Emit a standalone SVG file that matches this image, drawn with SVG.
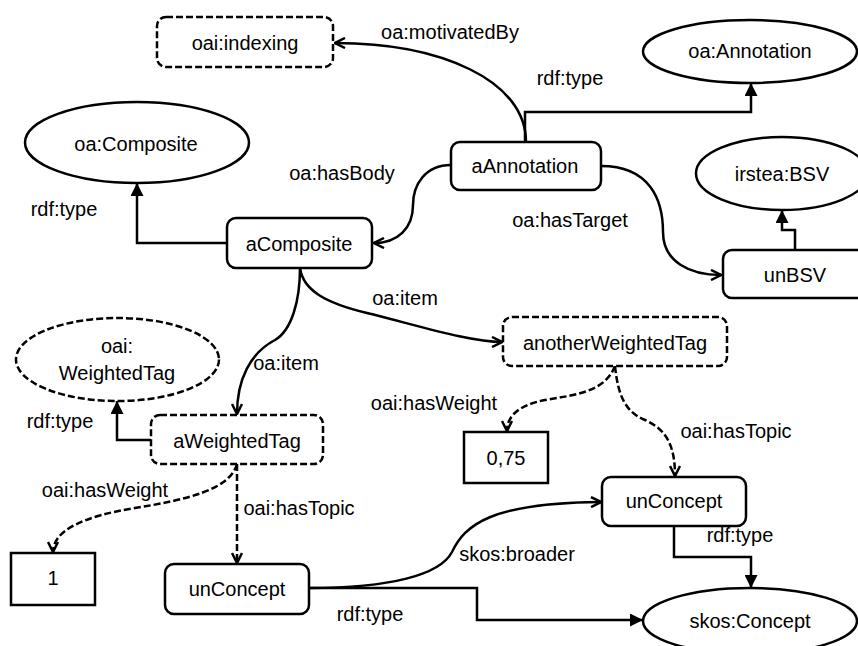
<svg xmlns="http://www.w3.org/2000/svg" width="858" height="646" viewBox="0 0 858 646">
<style>
text{font-family:"Liberation Sans",Arial,sans-serif;font-size:20px;fill:#000;text-anchor:middle}
.n{fill:#fff;stroke:#000;stroke-width:2.5}
.d{stroke-dasharray:7 3}
.c{fill:none;stroke:#000;stroke-width:2.5}
.o{marker-end:url(#open)}
.f{marker-end:url(#fill)}
</style>
<defs>
<marker id="open" viewBox="0 0 12 12" refX="11" refY="6" markerWidth="12" markerHeight="12" markerUnits="userSpaceOnUse" orient="auto">
<path d="M1,1 L11,6 L1,11" fill="none" stroke="#000" stroke-width="2.5"/>
</marker>
<marker id="fill" viewBox="0 0 12 12" refX="12" refY="6" markerWidth="13" markerHeight="13" markerUnits="userSpaceOnUse" orient="auto">
<path d="M0,0 L12,6 L0,12 z" fill="#000"/>
</marker>
</defs>
<rect width="858" height="646" fill="#fff"/>
<g id="connectors">
<path class="c o" d="M526,142 C526,80 440,43 335,43"/>
<path class="c f" d="M525,142 L525,112 L751,112 L751,83"/>
<path class="c o" d="M601,166 C650,166 663,200 663,232 C663,262 690,275 721,275"/>
<path class="c o" d="M451,165 C425,165 413,185 413,205 C413,228 398,243 374,243"/>
<path class="c f" d="M227,243 L137,243 L137,183"/>
<path class="c f" d="M795,250 L795,230 L782,230 L782,210"/>
<path class="c o" d="M300,268 C300,300 292,330 275,340 C250,353 237,380 237,414"/>
<path class="c o" d="M300,268 C303,290 325,303 367,313 C420,326 470,342 502,342"/>
<path class="c d o" d="M615,366 C605,392 575,395 545,400 C520,405 507,415 507,431"/>
<path class="c d o" d="M615,366 C618,395 625,412 645,420 C668,430 675,448 675,476"/>
<path class="c f" d="M674,526 L674,557 L751,557 L751,588"/>
<path class="c f" d="M151,440 L117,440 L117,401"/>
<path class="c d o" d="M237,464 C230,490 185,500 135,508 C85,516 53,530 53,552"/>
<path class="c d o" d="M237,464 L237,563"/>
<path class="c f" d="M309,588 L477,588 L477,620 L643,620"/>
<path class="c o" d="M309,588 C390,588 440,575 452,552 C465,525 490,503 601,502"/>
<text x="450" y="39">oa:motivatedBy</text>
<text x="570" y="85">rdf:type</text>
<text x="342" y="180">oa:hasBody</text>
<text x="64" y="216">rdf:type</text>
<text x="570" y="227">oa:hasTarget</text>
<text x="405" y="305">oa:item</text>
<text x="286" y="370">oa:item</text>
<text x="434" y="410">oai:hasWeight</text>
<text x="60" y="428">rdf:type</text>
<text x="736" y="438">oai:hasTopic</text>
<text x="105" y="497">oai:hasWeight</text>
<text x="299" y="515">oai:hasTopic</text>
<text x="740" y="542">rdf:type</text>
<text x="517" y="561">skos:broader</text>
<text x="370" y="621">rdf:type</text>
</g>
<g id="oai-indexing"><rect class="n d" x="157" y="17" width="176" height="50" rx="9"/><text x="245" y="50">oai:indexing</text></g>
<g id="oa-Annotation"><ellipse class="n" cx="750" cy="51.5" rx="107" ry="31.5"/><text x="750" y="58">oa:Annotation</text></g>
<g id="oa-Composite"><ellipse class="n" cx="137" cy="142.5" rx="112" ry="40.5"/><text x="136" y="151">oa:Composite</text></g>
<g id="aAnnotation"><rect class="n" x="451" y="142" width="150" height="48" rx="9"/><text x="525" y="173">aAnnotation</text></g>
<g id="irstea-BSV"><ellipse class="n" cx="782" cy="173.5" rx="86" ry="36.5"/><text x="782" y="181">irstea:BSV</text></g>
<g id="aComposite"><rect class="n" x="227" y="218" width="145" height="50" rx="9"/><text x="299" y="251">aComposite</text></g>
<g id="unBSV"><rect class="n" x="723" y="250" width="144" height="48" rx="9"/><text x="795" y="282">unBSV</text></g>
<g id="anotherWeightedTag"><rect class="n d" x="503" y="317" width="224" height="49" rx="9"/><text x="615" y="350">anotherWeightedTag</text></g>
<g id="oai-WeightedTag"><ellipse class="n d" cx="117.5" cy="359.5" rx="101.5" ry="41.5"/><text x="117" y="353">oai:</text><text x="117" y="380">WeightedTag</text></g>
<g id="aWeightedTag"><rect class="n d" x="151" y="415" width="172" height="49" rx="9"/><text x="237" y="448">aWeightedTag</text></g>
<g id="v075"><rect class="n" x="464" y="432" width="84" height="51"/><text x="506" y="465">0,75</text></g>
<g id="unConcept2"><rect class="n" x="602" y="477" width="144" height="49" rx="9"/><text x="674" y="508">unConcept</text></g>
<g id="v1"><rect class="n" x="11" y="553" width="84" height="52"/><text x="53" y="585">1</text></g>
<g id="unConcept1"><rect class="n" x="165" y="564" width="144" height="50" rx="9"/><text x="237" y="596">unConcept</text></g>
<g id="skos-Concept"><ellipse class="n" cx="750" cy="621" rx="107" ry="33"/><text x="750" y="628">skos:Concept</text></g>
</svg>
